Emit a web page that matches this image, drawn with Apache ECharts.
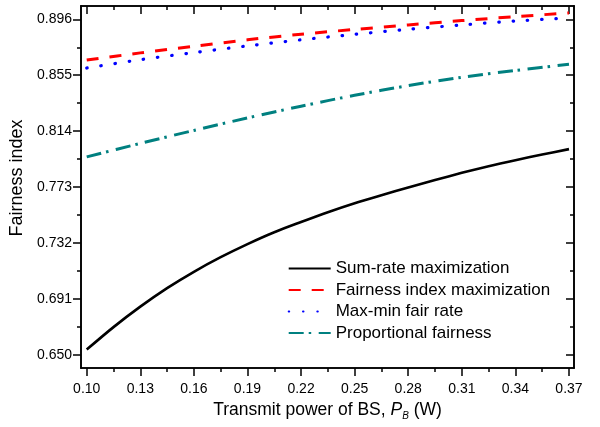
<!DOCTYPE html>
<html>
<head>
<meta charset="utf-8">
<script src="https://cdn.jsdelivr.net/npm/echarts@6/dist/echarts.min.js"></script>
<style>html,body{margin:0;padding:0;background:#fff}#c{width:600px;height:427px}</style>
</head>
<body>
<div id="c"></div>
<script>
// x values (Transmit power of BS, W)
var powerFine = [0.10,0.115,0.13,0.145,0.16,0.175,0.19,0.205,0.22,0.235,0.25,0.265,0.28,0.295,0.31,0.325,0.34,0.355,0.37];
var power = [0.10,0.13,0.16,0.19,0.22,0.25,0.28,0.31,0.34,0.37];
// series values
var sumRate = [0.6537,0.6702,0.6852,0.6988,0.7108,0.7215,0.7311,0.7398,0.7473,0.7545,0.7611,0.7670,0.7727,0.7781,0.7834,0.7883,0.7927,0.7968,0.8008];
var fairnessMax = [0.8661,0.8714,0.8762,0.8810,0.8851,0.8886,0.8919,0.8951,0.8980,0.9007];
var maxMin = [0.8603,0.8664,0.8716,0.8765,0.8810,0.8850,0.8887,0.8919,0.8948,0.8970];
var proportional = [0.7951,0.8050,0.8145,0.8237,0.8323,0.8403,0.8474,0.8535,0.8585,0.8630];
// tick labels
var xTicks = [0.10,0.13,0.16,0.19,0.22,0.25,0.28,0.31,0.34,0.37];
var xMinor = [0.115,0.145,0.175,0.205,0.235,0.265,0.295,0.325,0.355];
var yTicks = [0.650,0.691,0.732,0.773,0.814,0.855,0.896];
var yMinor = [0.6705,0.7115,0.7525,0.7935,0.8345,0.8755];
var names = ['Sum-rate maximization','Fairness index maximization','Max-min fair rate','Proportional fairness'];

function pairs(xs, ys){ return xs.map(function(x,i){ return [x, ys[i]]; }); }

var XMIN = 0.0968, XMAX = 0.3728, YMIN = 0.6402, YMAX = 0.9058;
var font = 'Liberation Sans, Arial, sans-serif';

function xAx(pos, minor, showLabel, inside){
  return {
    type:'value', position:pos, min:XMIN, max:XMAX,
    axisLine:{show:true, onZero:false, lineStyle:{color:'#000', width:1.6}},
    axisTick:{show:true, inside:inside, length: minor?4:8, customValues: minor?xMinor:xTicks, lineStyle:{color:'#000', width:1.5}},
    axisLabel:{show:showLabel, customValues:xTicks, margin:14, color:'#000', fontSize:14, fontFamily:font,
      formatter:function(v){return v.toFixed(2);}},
    splitLine:{show:false}
  };
}
function yAx(pos, minor, showLabel, inside){
  return {
    type:'value', position:pos, min:YMIN, max:YMAX,
    axisLine:{show:true, onZero:false, lineStyle:{color:'#000', width:1.6}},
    axisTick:{show:true, inside:inside, length: minor?4:8, customValues: minor?yMinor:yTicks, lineStyle:{color:'#000', width:1.5}},
    axisLabel:{show:showLabel, customValues:yTicks, margin:9, color:'#000', fontSize:14, fontFamily:font,
      formatter:function(v){return v.toFixed(3);}},
    splitLine:{show:false}
  };
}

var xAxes = [xAx('bottom',false,true,false), xAx('bottom',true,false,false), xAx('top',false,false,true), xAx('top',true,false,true)];
xAxes[0].name = '{a|Transmit power of BS, }{i|P}{s|B}{a| (W)}';
xAxes[0].nameLocation = 'middle';
xAxes[0].nameGap = 31;
xAxes[0].nameTextStyle = {color:'#000', fontFamily:font, rich:{
  a:{fontSize:17.5, fontFamily:font, color:'#000'},
  i:{fontSize:17.5, fontStyle:'italic', fontFamily:font, color:'#000'},
  s:{fontSize:10, fontStyle:'italic', fontFamily:font, color:'#000', verticalAlign:'bottom', padding:[12,0,0,0]}
}};
var yAxes = [yAx('left',false,true,false), yAx('left',true,false,false), yAx('right',false,false,true), yAx('right',true,false,true)];
yAxes[0].name = 'Fairness index';
yAxes[0].nameLocation = 'middle';
yAxes[0].nameGap = 47;
yAxes[0].nameTextStyle = {color:'#000', fontSize:18, fontFamily:font, padding:[0,0,0,18]};

var chart = echarts.init(document.getElementById('c'), null, {renderer:'canvas'});
chart.setOption({
  animation:false,
  backgroundColor:'#fff',
  grid:{left:81, right:26, top:6, bottom:59},
  xAxis:xAxes,
  yAxis:yAxes,
  legend:{
    orient:'vertical', left:282.7, top:255, itemWidth:42, itemHeight:14, itemGap:4.5,
    data:names,
    itemStyle:{opacity:0, color:'transparent', borderWidth:0},
    textStyle:{fontSize:17, fontFamily:font, color:'#000'}
  },
  series:[
    {name:names[0], type:'line', symbol:'none', smooth:0.3, data:pairs(powerFine,sumRate),
      lineStyle:{color:'#000', width:2.6, type:'solid'}, itemStyle:{color:'#000'}},
    {name:names[1], type:'line', symbol:'none', smooth:0.3, data:pairs(power,fairnessMax),
      lineStyle:{color:'#ff0000', width:3, type:[12,11]}, itemStyle:{color:'#ff0000'}},
    {name:names[2], type:'line', symbol:'none', smooth:0.3, data:pairs(power,maxMin),
      lineStyle:{color:'#0000ff', width:3.2, type:[0.5,13.8], cap:'round'}, itemStyle:{color:'#0000ff'}},
    {name:names[3], type:'line', symbol:'none', smooth:0.3, data:pairs(power,proportional),
      lineStyle:{color:'#008080', width:3, type:[15,5,2.5,7.5]}, itemStyle:{color:'#008080'}}
  ]
});
</script>
</body>
</html>
